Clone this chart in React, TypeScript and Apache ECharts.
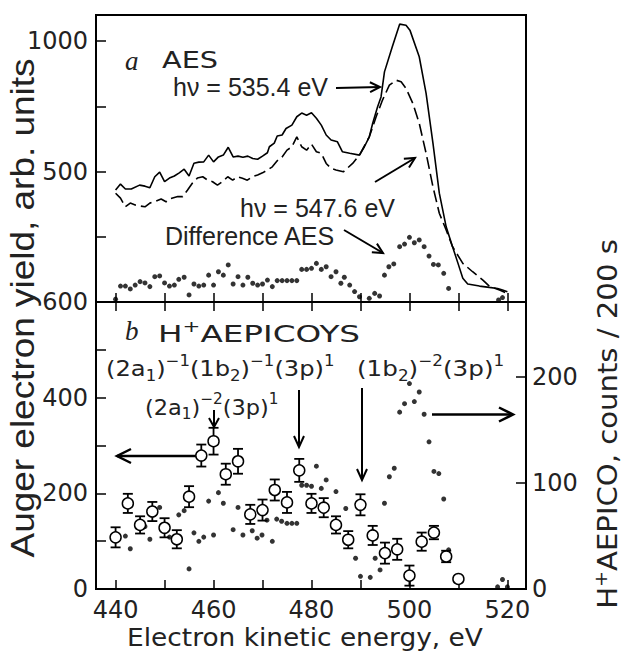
import { useEffect, useRef } from "react";
import * as echarts from "echarts";

// ---------- axes ----------
const xTicks = [440, 450, 460, 470, 480, 490, 500, 510, 520];
const xLabels = [440, 460, 480, 500, 520];
const topYTicks = [0, 250, 500, 750, 1000];
const topYLabels = [500, 1000];
const leftYTicks = [0, 100, 200, 300, 400, 500, 600];
const leftYLabels = [0, 200, 400, 600];
const rightYTicks = [0, 100, 200];

// ---------- panel a: AES ----------
const aesSolid: [number, number][] = [
  [440, 429], [441, 452], [442, 433], [443.2, 433], [444.9, 448], [446, 444], [447, 438], [448, 480],
  [449, 498], [450, 461], [451, 475], [452, 483], [453, 495], [454, 509], [455, 483], [456, 532],
  [457, 536], [458, 537], [459, 563], [460, 537], [461, 556], [462, 563], [463, 593], [464, 556],
  [465, 559], [466, 555], [467, 559], [468, 550], [469, 547], [470, 559], [471, 572], [471.4, 595],
  [472.4, 609], [473, 636], [474, 640], [474.8, 665], [476, 678], [477, 710], [478, 724], [479, 716],
  [480, 725], [481, 704], [482, 678], [483, 640], [484, 621], [485.3, 614], [486.3, 576], [487.8, 570],
  [489.8, 563], [490.8, 595], [491.8, 633], [492.5, 685], [493.5, 748], [494.2, 786], [494.9, 882],
  [496.5, 978], [498, 1065], [499.3, 1061], [500.1, 1042], [502, 940], [503.4, 800], [504.8, 609],
  [506.1, 417], [507.5, 288], [508.8, 212], [509.9, 149], [510.9, 91], [511.9, 69], [514.3, 61],
  [516.3, 56], [518, 52], [519, 46], [520, 39],
];
const aesDashed: [number, number][] = [
  [440, 417], [441, 398], [442, 365], [443, 379], [444, 372], [445, 368], [446, 365], [447, 379],
  [448.3, 387], [449.3, 395], [450.3, 384], [451.3, 397], [452.7, 404], [453.7, 404], [454.7, 429],
  [455.7, 456], [456.7, 475], [457.8, 480], [458.8, 467], [459.8, 461], [460.8, 448], [461.8, 461],
  [462.9, 480], [463.9, 467], [464.9, 480], [465.9, 474], [466.9, 467], [467.9, 480], [469, 487],
  [470, 495], [471, 506], [472, 518], [473, 541], [474, 556], [475, 582], [476, 595], [477, 633],
  [478, 595], [479, 582], [480, 605], [481, 576], [482, 570], [483, 531], [484, 512], [485, 506],
  [486.5, 499], [488.4, 531], [489.8, 563], [491.8, 633], [493.2, 710], [494.5, 774], [495.9, 831],
  [497.3, 850], [498.3, 844], [499.3, 819], [500.7, 761], [502, 685], [503.4, 570], [504.8, 442],
  [506.1, 340], [507.5, 276], [508.8, 212], [510.9, 148], [512.9, 116], [515, 84], [516.3, 61],
  [518.4, 46], [520, 33],
];
const aesDifference: [number, number][] = [
  [440, 11], [441, 61], [442, 61], [443, 50], [444, 65], [445, 78], [446, 73], [447, 59], [448, 97],
  [449, 100], [450, 73], [451, 61], [452, 65], [452.9, 87], [454, 95], [455, 27], [456, 69], [457, 61],
  [458, 65], [459, 103], [460, 65], [461, 116], [462, 103], [463, 142], [464, 69], [465, 97], [466, 65],
  [467, 95], [468, 72], [469, 65], [470, 69], [471, 84], [472, 59], [473, 82], [474, 82], [475, 82],
  [476, 82], [477, 82], [478, 125], [479, 125], [480, 129], [481, 148], [482, 125], [483, 135],
  [484, 97], [485, 116], [486, 72], [486.7, 95], [487.8, 65], [488.8, 40], [489.8, 20], [491.8, 14],
  [492.9, 33], [493.9, 23], [494.9, 103], [495.8, 135], [496.8, 146], [498, 212], [499, 222],
  [500, 248], [501, 227], [502, 238], [503, 212], [504, 176], [504.9, 144], [505.9, 142], [507, 110],
  [508, 52], [518.2, 8], [519, 17],
];

// ---------- panel b: H+ AEPICOYS ----------
const aepicoysEnergy = [
  440, 442.5, 445, 447.5, 450, 452.5, 455, 457.5, 460, 462.5, 465, 467.5, 470, 472.5, 475,
  477.5, 480, 482.5, 485, 487.5, 490, 492.5, 495, 497.5, 500, 502.5, 505, 507.5, 510,
];
const aepicoysYield = [
  108, 179, 134, 162, 128, 104, 193, 279, 309, 240, 267, 156, 165, 207, 181,
  248, 179, 170, 134, 103, 176, 112, 75, 83, 28, 99, 118, 68, 21,
];
const aepicoysError = [
  21, 20, 18, 20, 20, 19, 22, 23, 28, 22, 26, 20, 22, 22, 22,
  24, 20, 20, 18, 18, 22, 20, 22, 22, 21, 19, 14, 12, 0,
];
const aepicoCounts: [number, number][] = [
  [442, 50], [443, 38], [444.9, 62], [446, 59], [447, 47], [449, 77], [451, 49], [452.9, 70], [454, 74],
  [455, 19], [456, 53], [457, 45], [458, 49], [459, 83], [460, 51], [461, 91], [462, 81], [464, 56],
  [465, 77], [466, 51], [467.9, 55], [468.9, 48], [469.9, 51], [470.9, 65], [472, 45], [472.9, 66],
  [473.9, 64], [475, 62], [476, 62], [477, 62], [478, 98], [479, 98], [480, 97], [481, 116], [482, 95],
  [483, 103], [485, 92], [487, 76], [489, 29], [490, 12], [492, 11], [493, 29], [494, 18], [494.9, 81],
  [495.9, 106], [496.9, 114], [498, 167], [499, 175], [500, 194], [501, 177], [502, 186], [503, 165],
  [504, 139], [505, 111], [506, 109], [507, 85], [508, 37], [518, 2], [519, 9], [520, 2],
];

const TXT = "#222";
const SANS = '"Liberation Sans", Arial, sans-serif';
const DEJAVU = '"DejaVu Sans", sans-serif';

function arrow(x1: number, y1: number, x2: number, y2: number, head: number, half: number, lw: number) {
  const dx = x2 - x1, dy = y2 - y1;
  const len = Math.sqrt(dx * dx + dy * dy);
  const ux = dx / len, uy = dy / len;
  const nx = -uy, ny = ux;
  const bx = x2 - ux * head, by = y2 - uy * head;
  return [
    { type: "line", shape: { x1, y1, x2, y2 }, style: { stroke: "#000", lineWidth: lw } },
    {
      type: "polyline",
      shape: { points: [[bx + nx * half, by + ny * half], [x2, y2], [bx - nx * half, by - ny * half]] },
      style: { stroke: "#000", lineWidth: lw, fill: null },
    },
  ];
}

const richBase = {
  n: { fontSize: 22, fontFamily: DEJAVU, fill: TXT, lineHeight: 30, verticalAlign: "middle" },
  sup: { fontSize: 15, fontFamily: DEJAVU, fill: TXT, lineHeight: 14, verticalAlign: "top" },
  sub: { fontSize: 15, fontFamily: DEJAVU, fill: TXT, lineHeight: 14, verticalAlign: "bottom" },
};

function label(x: number, y: number, text: string, opts: any = {}) {
  return {
    type: "text",
    x,
    y,
    scaleX: opts.scaleX ?? 1,
    rotation: opts.rotation ?? 0,
    style: {
      x: 0,
      y: 0,
      text,
      rich: opts.rich,
      fill: TXT,
      fontSize: opts.fontSize ?? 25,
      fontFamily: opts.fontFamily ?? SANS,
      fontStyle: opts.fontStyle ?? "normal",
      textAlign: opts.align ?? "left",
      align: opts.align ?? "left",
      textVerticalAlign: "middle",
      verticalAlign: "middle",
    },
  };
}

const plain = (v: number) => String(v);

export default function App() {
  const ref = useRef<HTMLDivElement>(null);
  useEffect(() => {
    document.body.style.margin = "0";
    if (!ref.current) return;
    const chart = echarts.init(ref.current, null, { renderer: "svg" });

    const axisLine = { show: true, onZero: false, lineStyle: { color: "#000", width: 2 } };
    const tickStyle = { color: "#000", width: 1.5 };
    const tickLabel = { fontFamily: DEJAVU, fontSize: 24, color: TXT, formatter: plain };

    const option: any = {
      animation: false,
      backgroundColor: "#fff",
      grid: [
        { left: 96, top: 15, width: 430, height: 287, show: true, borderColor: "#000", borderWidth: 2, backgroundColor: "transparent" },
        { left: 96, top: 302, width: 430, height: 287, show: true, borderColor: "#000", borderWidth: 2, backgroundColor: "transparent" },
      ],
      xAxis: [
        {
          gridIndex: 0, type: "value", min: 436, max: 523.8, position: "bottom", axisLine,
          axisTick: { show: true, inside: true, length: 9, lineStyle: tickStyle, customValues: xTicks },
          axisLabel: { show: false }, splitLine: { show: false },
        },
        {
          gridIndex: 1, type: "value", min: 436, max: 523.8, position: "bottom", axisLine,
          axisTick: { show: true, inside: true, length: 9, lineStyle: tickStyle, customValues: xTicks },
          axisLabel: { show: true, margin: 9, customValues: xLabels, showMinLabel: true, showMaxLabel: true, ...tickLabel },
          splitLine: { show: false },
        },
        {
          gridIndex: 1, type: "value", min: 436, max: 523.8, position: "top", axisLine,
          axisTick: { show: true, inside: true, length: 9, lineStyle: tickStyle, customValues: xTicks },
          axisLabel: { show: false }, splitLine: { show: false },
        },
      ],
      yAxis: [
        {
          gridIndex: 0, type: "value", min: 0, max: 1100, position: "left", axisLine,
          axisTick: { show: true, inside: true, length: 10, lineStyle: tickStyle, customValues: topYTicks },
          axisLabel: { show: true, margin: 8, customValues: topYLabels, showMaxLabel: true, ...tickLabel },
          splitLine: { show: false },
        },
        {
          gridIndex: 1, type: "value", min: 0, max: 600, position: "left", axisLine,
          axisTick: { show: true, inside: true, length: 10, lineStyle: tickStyle, customValues: leftYTicks },
          axisLabel: { show: true, margin: 8, customValues: leftYLabels, showMinLabel: true, showMaxLabel: true, ...tickLabel },
          splitLine: { show: false },
        },
        {
          gridIndex: 1, type: "value", min: 0, max: 271, position: "right", axisLine,
          axisTick: { show: true, inside: true, length: 10, lineStyle: tickStyle, customValues: rightYTicks },
          axisLabel: { show: true, margin: 6, customValues: rightYTicks, showMinLabel: true, ...tickLabel },
          splitLine: { show: false },
        },
      ],
      series: [
        {
          type: "line", xAxisIndex: 0, yAxisIndex: 0, data: aesSolid, showSymbol: false, symbol: "none",
          lineStyle: { color: "#000", width: 1.6 }, clip: true, z: 3,
        },
        {
          type: "line", xAxisIndex: 0, yAxisIndex: 0, data: aesDashed, showSymbol: false, symbol: "none",
          lineStyle: { color: "#000", width: 1.6, type: [12, 5] }, clip: true, z: 3,
        },
        {
          type: "scatter", xAxisIndex: 0, yAxisIndex: 0, data: aesDifference, symbol: "circle", symbolSize: 5,
          itemStyle: { color: "#000" }, z: 3,
        },
        {
          type: "scatter", xAxisIndex: 1, yAxisIndex: 2, data: aepicoCounts, symbol: "circle", symbolSize: 5,
          itemStyle: { color: "#000" }, z: 3,
        },
        {
          type: "custom", xAxisIndex: 1, yAxisIndex: 1,
          data: aepicoysEnergy.map((e, i) => [e, aepicoysYield[i], aepicoysError[i]]),
          encode: { x: 0, y: 1 },
          renderItem: (_params: any, api: any) => {
            const x = api.value(0), y = api.value(1), er = api.value(2);
            if (!er) return { type: "group", children: [] };
            const t = api.coord([x, y + er]);
            const b = api.coord([x, y - er]);
            const cw = 5;
            const st = { stroke: "#000", lineWidth: 1.8 };
            return {
              type: "group",
              children: [
                { type: "line", shape: { x1: t[0], y1: t[1], x2: b[0], y2: b[1] }, style: st },
                { type: "line", shape: { x1: t[0] - cw, y1: t[1], x2: t[0] + cw, y2: t[1] }, style: st },
                { type: "line", shape: { x1: b[0] - cw, y1: b[1], x2: b[0] + cw, y2: b[1] }, style: st },
              ],
            };
          },
          z: 4,
        },
        {
          type: "scatter", xAxisIndex: 1, yAxisIndex: 1,
          data: aepicoysEnergy.map((e, i) => [e, aepicoysYield[i]]),
          symbol: "circle", symbolSize: 11,
          itemStyle: { color: "#fff", borderColor: "#000", borderWidth: 1.5, opacity: 1 }, z: 5,
        },
      ],
      graphic: {
        elements: [
          // panel a labels
          label(125, 61, "a", { fontFamily: '"Liberation Serif", serif', fontStyle: "italic", fontSize: 27 }),
          label(162, 60, "AES", { fontFamily: DEJAVU, fontSize: 23, scaleX: 1.25 }),
          label(173, 87, "h\u03bd = 535.4 eV", { fontSize: 25 }),
          label(240, 208, "h\u03bd = 547.6 eV", { fontSize: 25 }),
          label(165, 236, "Difference AES", { fontSize: 25 }),
          ...arrow(336, 88, 380, 87, 10, 5, 2),
          ...arrow(375, 182, 415, 158, 10, 5, 2),
          ...arrow(344, 230, 383, 253, 10, 5, 2),
          // panel b labels
          label(125, 331, "b", { fontFamily: '"Liberation Serif", serif', fontStyle: "italic", fontSize: 27 }),
          label(158, 334, "{n|H}{sup|+}{n|AEPICOYS}", {
            rich: { ...richBase, n: { ...richBase.n, fontSize: 23 } }, scaleX: 1.42,
          }),
          label(106, 368, "{n|(2a}{sub|1}{n|)}{sup|\u22121}{n|(1b}{sub|2}{n|)}{sup|\u22121}{n|(3p)}{sup|1}", {
            rich: richBase, scaleX: 1.1,
          }),
          label(357, 368, "{n|(1b}{sub|2}{n|)}{sup|\u22122}{n|(3p)}{sup|1}", { rich: richBase, scaleX: 1.12 }),
          label(145, 407, "{n|(2a}{sub|1}{n|)}{sup|\u22122}{n|(3p)}{sup|1}", { rich: richBase, scaleX: 1.02 }),
          ...arrow(214, 410, 214, 427, 9, 5, 2),
          ...arrow(299, 390, 299, 447, 11, 5, 2),
          ...arrow(362, 388, 362, 480, 11, 5, 2),
          ...arrow(200, 456, 117, 456, 14, 7, 2.5),
          ...arrow(432, 414.5, 513, 414.5, 14, 7, 2.5),
          // axis titles
          label(22, 308, "Auger electron yield, arb. units", {
            fontSize: 33, rotation: Math.PI / 2, align: "center", scaleX: 1.12,
          }),
          label(608, 424, "{m|H}{s|+}{m|AEPICO, counts / 200 s}", {
            rotation: Math.PI / 2, align: "center", scaleX: 1.12,
            rich: {
              m: { fontSize: 26, fontFamily: DEJAVU, fill: TXT, lineHeight: 32, verticalAlign: "middle" },
              s: { fontSize: 17, fontFamily: DEJAVU, fill: TXT, lineHeight: 16, verticalAlign: "top" },
            },
          }),
          label(305, 638, "Electron kinetic energy, eV", {
            fontFamily: DEJAVU, fontSize: 24, align: "center", scaleX: 1.1,
          }),
        ],
      },
    };
    chart.setOption(option);
    return () => chart.dispose();
  }, []);
  return <div ref={ref} style={{ width: 623, height: 652 }} />;
}
